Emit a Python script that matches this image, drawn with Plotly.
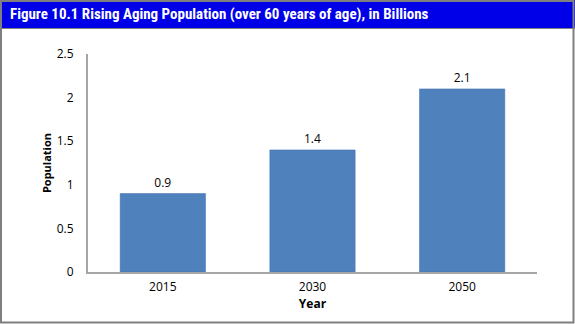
import plotly.graph_objects as go

years = ["2015", "2030", "2050"]
population = [0.9, 1.4, 2.1]
y_ticks = [0, 0.5, 1, 1.5, 2, 2.5]
y_tick_labels = ["0", "0.5", "1", "1.5", "2", "2.5"]
title_text = "Figure 10.1 Rising Aging Population (over 60 years of age), in Billions"

W, H = 575, 324
L, R, T, B = 88, 38, 54, 52
pw, ph = W - L - R, H - T - B

def px(x):
    return (x - L) / pw

def py(y):
    return 1 - (y - T) / ph

FONT = "Open Sans, DejaVu Sans, sans-serif"

fig = go.Figure(go.Bar(
    x=years, y=population,
    marker=dict(color="#4F81BD", line=dict(color="#3F6FA8", width=0.5)),
    width=0.57,
    text=[str(v) for v in population],
    textposition="outside",
    textfont=dict(family=FONT, size=12, color="#000000"),
    cliponaxis=False,
))

fig.update_layout(
    width=W, height=H,
    margin=dict(l=L, r=R, t=T, b=B),
    paper_bgcolor="white", plot_bgcolor="white",
    showlegend=False,
    xaxis=dict(
        showline=True, linecolor="#A6A6A6", linewidth=2,
        ticks="", showgrid=False,
        ticklabelstandoff=3,
        tickfont=dict(family=FONT, size=12, color="#000"),
        title=dict(text="<b>Year</b>", standoff=4,
                   font=dict(family=FONT, size=12, color="#000")),
    ),
    yaxis=dict(
        range=[0, 2.5], tickvals=y_ticks, ticktext=y_tick_labels,
        showline=True, linecolor="#A6A6A6", linewidth=2,
        ticks="", showgrid=False, zeroline=False,
        ticklabelstandoff=10,
        tickfont=dict(family=FONT, size=12, color="#000"),
        title=dict(text="<b>Population</b>", standoff=3,
                   font=dict(family=FONT, size=11, color="#000")),
    ),
    shapes=[
        dict(type="rect", xref="paper", yref="paper",
             x0=px(0), x1=px(W), y0=py(28), y1=py(0),
             fillcolor="#0000E8", line=dict(width=0), layer="below"),
        dict(type="rect", xref="paper", yref="paper",
             x0=px(1), x1=px(W - 1.5), y0=py(H - 1.5), y1=py(1),
             fillcolor="rgba(0,0,0,0)", line=dict(color="#7F7F7F", width=2)),
        dict(type="line", xref="paper", yref="paper",
             x0=px(0), x1=px(W), y0=py(28.5), y1=py(28.5),
             line=dict(color="#7F7F7F", width=1)),
    ],
    annotations=[
        dict(text="<b>" + title_text + "</b>", xref="paper", yref="paper",
             x=px(8), y=py(14), xanchor="left", yanchor="middle", showarrow=False,
             font=dict(family="Liberation Sans Narrow, Roboto Condensed, Open Sans, sans-serif",
                       size=15, color="white")),
    ],
)

fig.write_html("out.html")
